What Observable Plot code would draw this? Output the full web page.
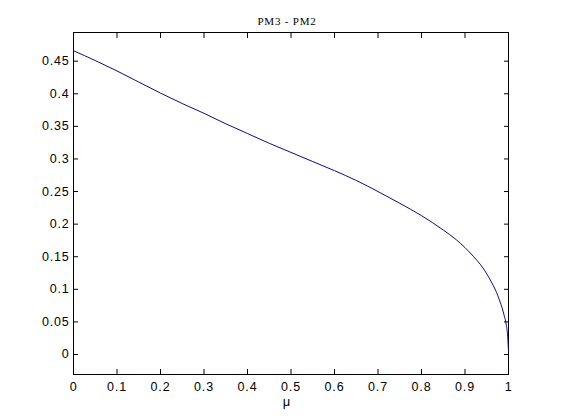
<!DOCTYPE html>
<html>
<head>
<meta charset="utf-8">
<script src="https://cdn.jsdelivr.net/npm/d3@7"></script>
<script src="https://cdn.jsdelivr.net/npm/@observablehq/plot@0.6"></script>
<style>
  html, body { margin: 0; padding: 0; background: #fff; }
  svg { display: block; }
</style>
</head>
<body>
<div id="chart"></div>
<script>
const title = "PM3 - PM2";
const xLabel = "μ";
const mu = [0, 0.05, 0.1, 0.15, 0.2, 0.25, 0.3, 0.35, 0.4, 0.45, 0.5, 0.55, 0.6, 0.65, 0.7, 0.75, 0.8, 0.85, 0.88, 0.9, 0.92, 0.94, 0.96, 0.97, 0.98, 0.99, 0.995, 0.998, 1.0];
const diff = [0.466, 0.451, 0.435, 0.418, 0.401, 0.385, 0.370, 0.354, 0.339, 0.324, 0.310, 0.296, 0.282, 0.267, 0.250, 0.232, 0.213, 0.191, 0.176, 0.164, 0.150, 0.134, 0.112, 0.099, 0.082, 0.060, 0.045, 0.028, 0.005];
const xTicks = [0, 0.1, 0.2, 0.3, 0.4, 0.5, 0.6, 0.7, 0.8, 0.9, 1];
const yTicks = [0, 0.05, 0.1, 0.15, 0.2, 0.25, 0.3, 0.35, 0.4, 0.45];

const data = mu.map((m, i) => ({mu: m, v: diff[i]}));
const fmt = d => String(d);

const chart = Plot.plot({
  width: 561,
  height: 420,
  marginLeft: 73,
  marginRight: 53,
  marginTop: 32,
  marginBottom: 46,
  style: {fontFamily: "'Liberation Sans', Arial, sans-serif", fontSize: "12px", color: "#000", background: "#fff", letterSpacing: "0.8px"},
  x: {domain: [0, 1]},
  y: {domain: [-0.0307, 0.494]},
  marks: [
    Plot.frame({stroke: "#000", strokeWidth: 1}),
    Plot.axisX(xTicks, {anchor: "bottom", tickSize: -5, tickPadding: 13, tickFormat: fmt, label: null, fontSize: 12.5}),
    Plot.axisX(xTicks, {anchor: "top", tickSize: -5, text: null, label: null}),
    Plot.axisY(yTicks, {anchor: "left", tickSize: -5, tickPadding: 9, tickFormat: fmt, label: null, fontSize: 12.5}),
    Plot.axisY(yTicks, {anchor: "right", tickSize: -5, text: null, label: null}),
    Plot.line(data, {x: "mu", y: "v", stroke: "#0a0a8a", strokeWidth: 1, curve: "monotone-x"}),
    Plot.text([title], {frameAnchor: "top", dy: -15, dx: -4, text: d => d, fontFamily: "'Liberation Serif', 'Times New Roman', serif", fontSize: 11, fill: "#000"}),
    Plot.text([xLabel], {frameAnchor: "bottom", dy: 31, dx: -4, text: d => d, fontSize: 13, fill: "#000"})
  ]
});
document.getElementById("chart").appendChild(chart);
</script>
</body>
</html>
